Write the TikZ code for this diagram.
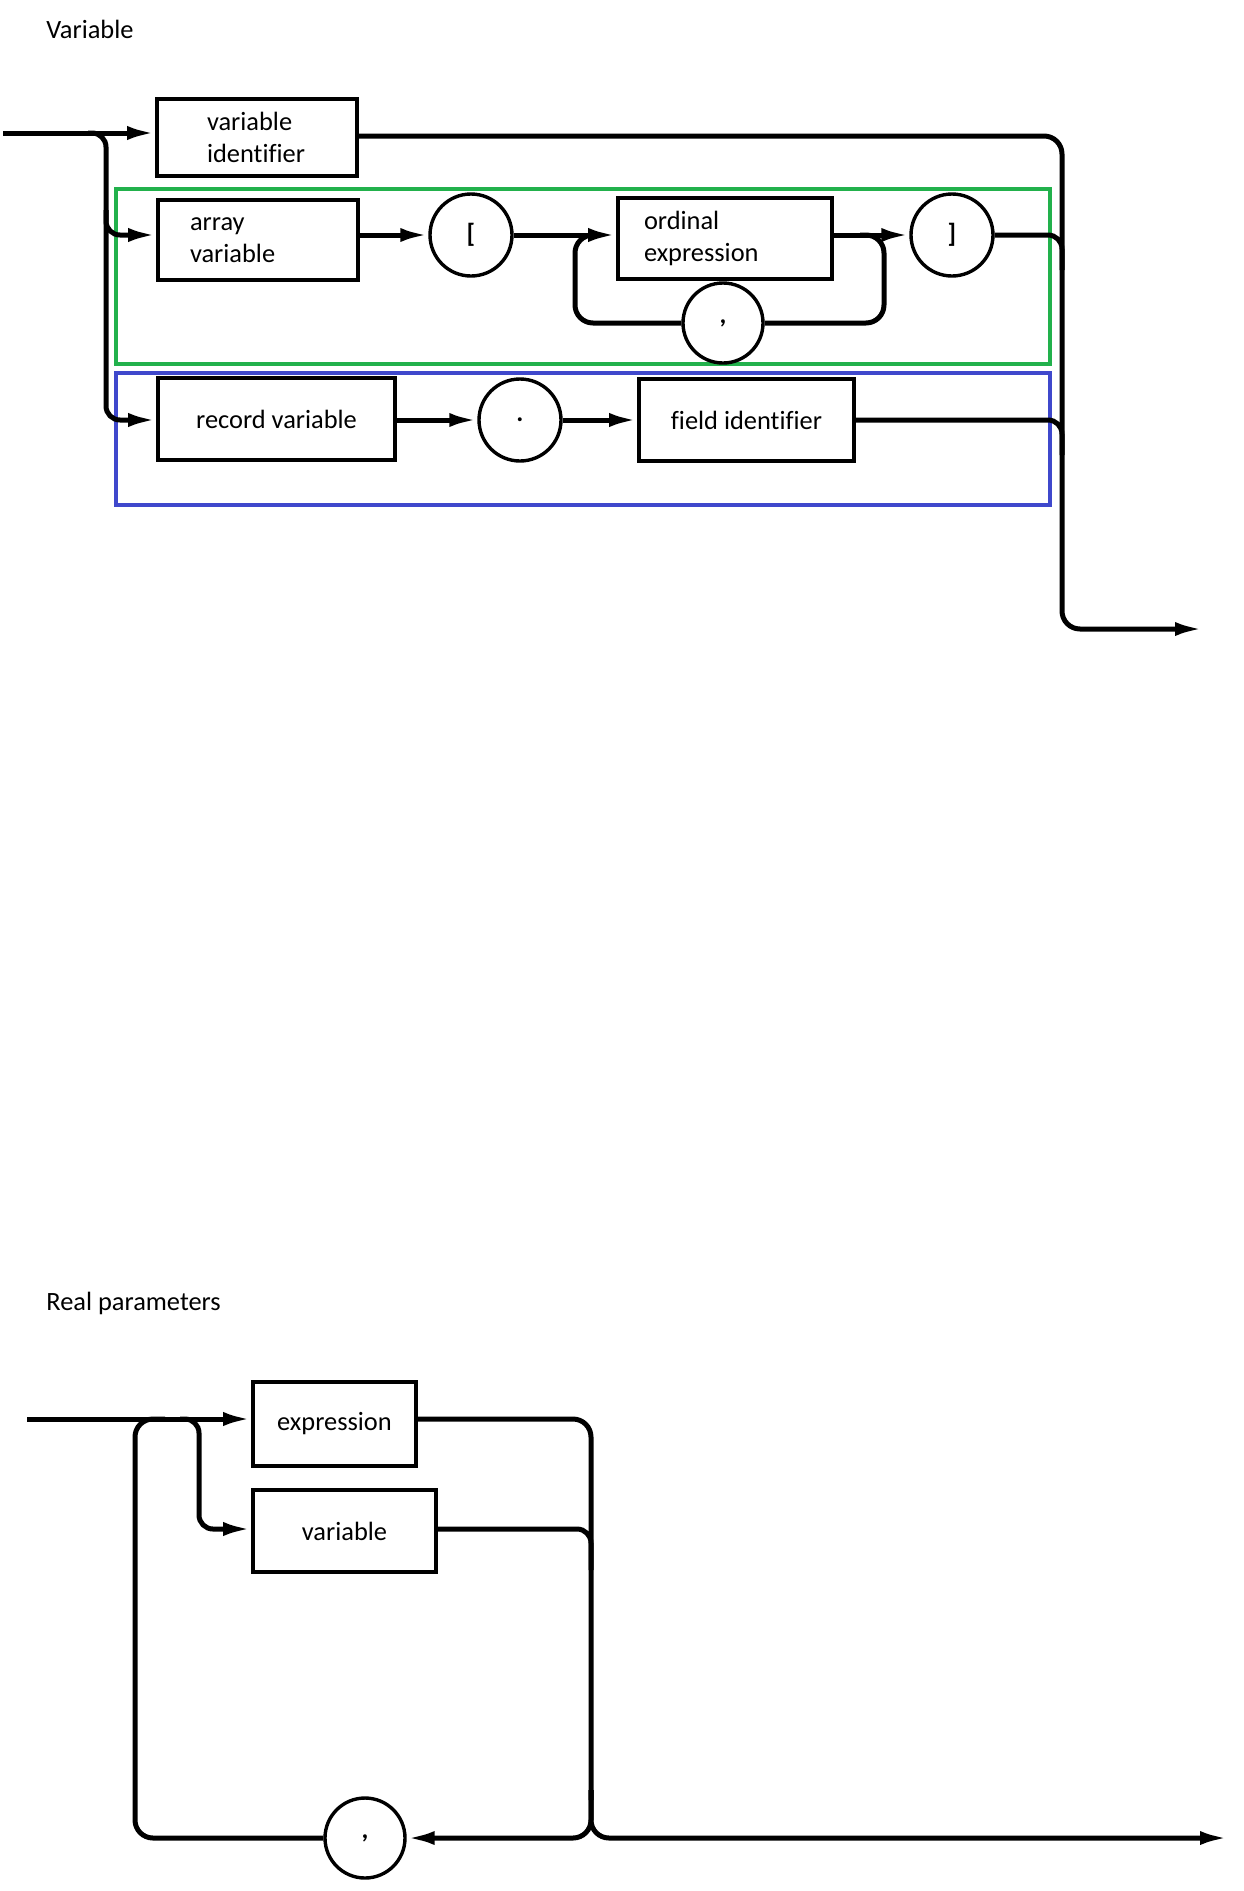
\documentclass[tikz,border=0pt]{standalone}
\usepackage{fontspec}
\setmainfont{Carlito}[Ligatures=NoCommon]
\usetikzlibrary{arrows.meta}
\definecolor{pgreen}{RGB}{34,177,76}
\definecolor{pblue}{RGB}{63,72,204}
\begin{document}
\begin{tikzpicture}[x=0.5pt,y=-0.5pt,
  font=\fontsize{13.2pt}{16.3pt}\selectfont,
  conn/.style={line width=2.5pt},
  arr/.style={conn,-{Latex[length=14pt,width=7pt]}},
  boxnode/.style={draw,line width=1.8pt,inner sep=0pt,align=left},
  circ/.style={draw,circle,line width=1.7pt,minimum size=41pt,inner sep=0pt,fill=white,font=\fontsize{13.2pt}{16.3pt}\bfseries},
  frame/.style={line width=1.75pt},
  title/.style={anchor=west,inner sep=0pt}]
\useasboundingbox (0,0) rectangle (1243,1891);

% titles
\node[title] (t1) at (46,29) {Variable};
\node[title] (t2) at (46,1303) {Real parameters};

% coloured frames
\draw[frame,pgreen] (116,189) rectangle (1050,364);
\draw[frame,pblue] (116,373) rectangle (1050,505);

% rows
\coordinate (rowT) at (0,133);
\coordinate (rowTo) at (0,136);
\coordinate (rowA) at (0,235);
\coordinate (rowR) at (0,420);
\coordinate (in1) at (3,133);
\coordinate (out1) at (1203,629);

% top nodes
\node[boxnode,minimum width=100pt,minimum height=38.5pt,text width=50pt] (vi) at (257,137.5) {variable\\identifier};
\node[boxnode,minimum width=100pt,minimum height=40pt,text width=68pt] (av) at (258,240) {array\\variable};
\node[circ] (lb) at (471,235) {[};
\node[boxnode,minimum width=107pt,minimum height=40.5pt,text width=81pt] (oe) at (725,238.5) {ordinal\\expression};
\node[circ] (rb) at (952,235) {]};
\node[circ,minimum size=40pt] (cm1) at (723,323) {,};
\node[boxnode,minimum width=118.5pt,minimum height=41pt,align=center] (rv) at (276.5,419) {record variable};
\node[circ] (dot) at (520,420) {.};
\node[boxnode,minimum width=107.5pt,minimum height=41pt,align=center] (fi) at (746.5,420) {field identifier};

% top connectors
\draw[arr] (in1) -- (vi.west |- rowT);
\draw[arr,rounded corners=7pt] (88,133) -- (106,133) -- (106,420) -- (rv.west |- rowR);
\draw[arr,rounded corners=7pt] (106,210) -- (106,235) -- (av.west |- rowA);
\draw[arr,rounded corners=9pt] (vi.east |- rowTo) -- (1062,136) -- (1062,629) -- (out1);
\draw[arr] (av.east |- rowA) -- (lb.west);
\draw[arr] (lb.east) -- (oe.west |- rowA);
\draw[arr] (oe.east |- rowA) -- (rb.west);
\draw[conn,rounded corners=7pt] (rb.east) -- (1062,235) -- (1062,270);
\draw[conn,rounded corners=9pt] (860,235) -- (884,235) -- (884,323) -- (cm1.east);
\draw[conn,rounded corners=9pt] (cm1.west) -- (575,323) -- (575,235) -- (600,235);
\draw[arr] (rv.east |- rowR) -- (dot.west);
\draw[arr] (dot.east) -- (fi.west |- rowR);
\draw[conn,rounded corners=7pt] (fi.east |- rowR) -- (1062,420) -- (1062,455);

% bottom
\coordinate (in2) at (27,1419);
\coordinate (rowV) at (0,1529);
\coordinate (out2) at (1228,1838);
\node[boxnode,minimum width=81.5pt,minimum height=42pt,align=center] (ex) at (334.5,1424) {expression};
\node[boxnode,minimum width=91.5pt,minimum height=41pt,align=center] (va) at (344.5,1531) {variable};
\node[circ,minimum size=40pt] (cm2) at (365,1838) {,};

\draw[arr] (in2) -- (ex.west |- in2);
\draw[arr,rounded corners=7pt] (180,1419) -- (199,1419) -- (199,1529) -- (va.west |- rowV);
\draw[conn,rounded corners=9pt] (ex.east |- in2) -- (591,1419) -- (591,1800);
\draw[conn,rounded corners=7pt] (va.east |- rowV) -- (591,1529) -- (591,1570);
\draw[arr,rounded corners=9pt] (591,1790) -- (591,1838) -- (cm2.east);
\draw[arr,rounded corners=9pt] (591,1790) -- (591,1838) -- (out2);
\draw[conn,rounded corners=9pt] (cm2.west) -- (135,1838) -- (135,1419) -- (165,1419);
\end{tikzpicture}
\end{document}
